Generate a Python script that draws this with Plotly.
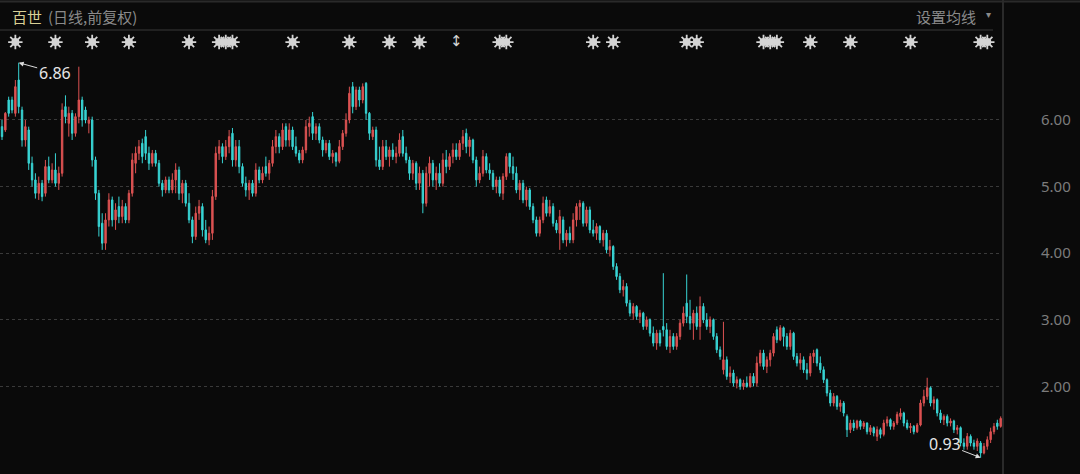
import plotly.graph_objects as go

# 日线 OHLC（前复权）
open_ = [5.9, 5.85, 6.3, 6.3, 6.1, 6.6, 6.15, 5.7, 5.85, 5.35,
         5.1, 4.9, 5.05, 4.9, 5.3, 5.1, 5.25, 5.05, 5.2, 6.2,
         5.95, 6.1, 5.8, 6.05, 6.3, 6.15, 5.95, 6.0, 5.4, 4.9,
         4.45, 4.15, 4.5, 4.8, 4.5, 4.7, 4.55, 4.7, 4.5, 4.9,
         5.35, 5.5, 5.65, 5.75, 5.5, 5.35, 5.5, 5.35, 5.05, 4.95,
         5.1, 4.95, 5.1, 5.25, 4.9, 5.05, 4.75, 4.5, 4.25, 4.6,
         4.7, 4.35, 4.2, 4.3, 4.85, 5.5, 5.6, 5.45, 5.6, 5.8,
         5.4, 5.6, 5.3, 5.05, 4.95, 5.05, 4.9, 5.25, 5.1, 5.3,
         5.2, 5.35, 5.6, 5.75, 5.6, 5.9, 5.7, 5.85, 5.6, 5.5,
         5.4, 5.55, 5.9, 6.05, 5.8, 5.9, 5.7, 5.55, 5.65, 5.45,
         5.5, 5.38, 5.6, 5.8, 6.0, 6.5, 6.2, 6.45, 6.3, 6.55,
         6.1, 5.75, 5.85, 5.4, 5.3, 5.6, 5.45, 5.55, 5.45, 5.5,
         5.75, 5.5, 5.4, 5.2, 5.35, 5.05, 5.2, 4.75, 5.2, 5.35,
         5.1, 5.2, 5.05, 5.4, 5.3, 5.45, 5.55, 5.45, 5.65, 5.8,
         5.6, 5.7, 5.4, 5.1, 5.2, 5.45, 5.25, 5.2, 5.0, 5.1,
         4.9, 5.15, 5.5, 5.3, 5.2, 4.95, 5.05, 4.8, 4.95, 4.7,
         4.5, 4.3, 4.5, 4.8, 4.6, 4.7, 4.45, 4.3, 4.5, 4.2,
         4.3, 4.2, 4.5, 4.7, 4.75, 4.45, 4.65, 4.35, 4.3, 4.4,
         4.2, 4.3, 4.05, 4.1, 3.8, 3.65, 3.45, 3.5, 3.25, 3.1,
         3.2, 3.05, 3.1, 2.9, 3.0, 2.8, 2.65, 2.8, 2.9, 2.85,
         2.6, 2.75, 2.6, 2.75, 2.95, 3.25, 3.05, 2.95, 3.1, 2.9,
         3.2, 3.0, 2.9, 3.0, 2.75, 2.55, 2.25, 2.4, 2.15, 2.2,
         2.05, 2.1, 2.0, 2.05, 2.0, 2.15, 2.05, 2.35, 2.5, 2.3,
         2.4, 2.5, 2.85, 2.7, 2.88, 2.75, 2.6, 2.8, 2.45, 2.35,
         2.4, 2.25, 2.2, 2.45, 2.55, 2.35, 2.25, 2.1, 1.9, 1.75,
         1.85, 1.7, 1.75, 1.55, 1.35, 1.45, 1.38, 1.48, 1.4, 1.45,
         1.32, 1.38, 1.25, 1.35, 1.28, 1.45, 1.5, 1.4, 1.45, 1.55,
         1.6, 1.45, 1.38, 1.4, 1.32, 1.42, 1.75, 1.85, 1.98, 1.75,
         1.8, 1.6, 1.5, 1.55, 1.45, 1.48, 1.35, 1.38, 1.15, 1.1,
         1.25, 1.15, 1.1, 1.15, 1.0, 1.1, 1.2, 1.32, 1.45, 1.4]
high = [6.0, 6.12, 6.35, 6.35, 6.6, 6.86, 6.2, 6.0, 5.9, 5.45,
        5.2, 5.15, 5.1, 5.4, 5.45, 5.35, 5.5, 5.3, 6.25, 6.37,
        6.2, 6.15, 6.1, 6.8, 6.35, 6.2, 6.05, 6.05, 5.45, 4.95,
        4.6, 4.6, 4.9, 4.85, 4.75, 4.85, 4.8, 4.75, 4.95, 5.5,
        5.6, 5.7, 5.72, 5.85, 5.6, 5.55, 5.55, 5.4, 5.1, 5.15,
        5.15, 5.2, 5.35, 5.3, 5.1, 5.1, 4.9, 4.55, 4.7, 4.8,
        4.75, 4.5, 4.4, 4.95, 5.6, 5.7, 5.65, 5.7, 5.85, 5.88,
        5.7, 5.7, 5.35, 5.15, 5.1, 5.1, 5.35, 5.3, 5.3, 5.45,
        5.4, 5.7, 5.85, 5.8, 5.95, 5.95, 5.95, 5.9, 5.75, 5.55,
        5.6, 6.0, 6.05, 6.12, 5.95, 5.95, 5.75, 5.7, 5.7, 5.55,
        5.52, 5.7, 5.85, 6.1, 6.5, 6.57, 6.5, 6.5, 6.55, 6.57,
        6.12, 5.9, 5.9, 5.6, 5.7, 5.7, 5.6, 5.65, 5.6, 5.8,
        5.85, 5.6, 5.45, 5.4, 5.38, 5.3, 5.25, 5.3, 5.45, 5.4,
        5.3, 5.35, 5.5, 5.55, 5.5, 5.65, 5.65, 5.7, 5.85, 5.87,
        5.75, 5.72, 5.45, 5.3, 5.55, 5.5, 5.35, 5.25, 5.15, 5.15,
        5.2, 5.5, 5.5, 5.45, 5.3, 5.1, 5.1, 5.0, 4.98, 4.75,
        4.55, 4.55, 4.85, 4.85, 4.8, 4.75, 4.5, 4.65, 4.55, 4.35,
        4.4, 4.6, 4.75, 4.8, 4.78, 4.7, 4.7, 4.5, 4.45, 4.42,
        4.35, 4.35, 4.2, 4.12, 3.85, 3.7, 3.6, 3.55, 3.3, 3.25,
        3.22, 3.15, 3.12, 3.05, 3.02, 2.9, 2.85, 2.85, 3.7, 2.95,
        2.85, 2.8, 2.8, 3.0, 3.2, 3.68, 3.3, 3.15, 3.2, 3.35,
        3.25, 3.1, 3.05, 3.02, 2.8, 2.6, 2.97, 2.45, 2.3, 2.25,
        2.15, 2.12, 2.1, 2.15, 2.2, 2.2, 2.45, 2.55, 2.55, 2.45,
        2.55, 2.8, 2.9, 2.92, 2.9, 2.8, 2.85, 2.82, 2.5, 2.5,
        2.45, 2.35, 2.5, 2.55, 2.57, 2.45, 2.3, 2.12, 1.95, 1.9,
        1.87, 1.8, 1.78, 1.58, 1.5, 1.5, 1.5, 1.5, 1.48, 1.46,
        1.42, 1.4, 1.4, 1.38, 1.5, 1.55, 1.52, 1.48, 1.62, 1.67,
        1.62, 1.5, 1.45, 1.42, 1.45, 1.8, 1.95, 2.13, 2.0, 1.85,
        1.82, 1.65, 1.58, 1.58, 1.52, 1.5, 1.42, 1.4, 1.22, 1.3,
        1.28, 1.2, 1.22, 1.18, 1.15, 1.25, 1.38, 1.45, 1.5, 1.55]
low = [5.7, 5.82, 6.05, 6.1, 6.05, 6.1, 5.6, 5.6, 5.25, 5.0,
       4.82, 4.8, 4.78, 4.85, 5.05, 5.05, 5.0, 4.95, 5.15, 5.95,
       5.75, 5.7, 5.75, 5.95, 5.9, 5.95, 5.8, 5.3, 4.8, 4.25,
       4.05, 4.05, 4.4, 4.4, 4.35, 4.45, 4.45, 4.45, 4.45, 4.85,
       5.2, 5.4, 5.35, 5.4, 5.25, 5.3, 5.3, 5.0, 4.85, 4.9,
       4.9, 4.9, 4.9, 4.8, 4.75, 4.7, 4.45, 4.15, 4.2, 4.5,
       4.25, 4.15, 4.12, 4.2, 4.8, 5.4, 5.35, 5.4, 5.5, 5.3,
       5.3, 5.2, 5.0, 4.85, 4.8, 4.85, 4.85, 5.05, 5.05, 5.15,
       5.1, 5.3, 5.5, 5.5, 5.55, 5.6, 5.6, 5.55, 5.45, 5.35,
       5.35, 5.5, 5.75, 5.7, 5.7, 5.65, 5.45, 5.5, 5.4, 5.35,
       5.3, 5.35, 5.55, 5.75, 5.95, 6.1, 6.15, 6.2, 6.25, 6.0,
       5.7, 5.7, 5.3, 5.25, 5.25, 5.4, 5.3, 5.4, 5.35, 5.45,
       5.45, 5.35, 5.1, 5.1, 4.95, 4.95, 4.6, 4.7, 5.0, 5.0,
       4.95, 5.0, 5.0, 5.2, 5.25, 5.35, 5.4, 5.4, 5.55, 5.5,
       5.45, 5.35, 5.0, 5.05, 5.15, 5.2, 5.1, 4.95, 4.9, 4.85,
       4.8, 5.1, 5.2, 5.1, 4.9, 4.8, 4.75, 4.7, 4.65, 4.45,
       4.25, 4.25, 4.45, 4.55, 4.55, 4.4, 4.3, 4.05, 4.15, 4.1,
       4.15, 4.15, 4.4, 4.5, 4.4, 4.4, 4.3, 4.25, 4.2, 4.15,
       4.1, 4.0, 3.95, 3.75, 3.6, 3.4, 3.35, 3.2, 3.05, 3.0,
       3.0, 2.95, 2.85, 2.85, 2.75, 2.6, 2.55, 2.6, 2.75, 2.55,
       2.5, 2.55, 2.55, 2.7, 2.9, 2.95, 2.85, 2.7, 2.85, 2.7,
       2.95, 2.85, 2.8, 2.7, 2.5, 2.4, 2.18, 2.1, 2.05, 2.0,
       1.97, 1.95, 1.95, 1.98, 1.98, 2.0, 2.0, 2.3, 2.25, 2.2,
       2.3, 2.45, 2.65, 2.68, 2.6, 2.55, 2.55, 2.4, 2.3, 2.25,
       2.2, 2.1, 2.15, 2.35, 2.3, 2.2, 2.05, 1.85, 1.7, 1.7,
       1.65, 1.62, 1.55, 1.24, 1.3, 1.33, 1.35, 1.35, 1.36, 1.28,
       1.27, 1.25, 1.18, 1.22, 1.25, 1.4, 1.35, 1.35, 1.42, 1.5,
       1.4, 1.35, 1.3, 1.28, 1.3, 1.4, 1.7, 1.8, 1.7, 1.65,
       1.55, 1.45, 1.42, 1.4, 1.4, 1.3, 1.28, 1.1, 1.05, 1.05,
       1.1, 1.05, 1.03, 0.93, 0.98, 1.05, 1.15, 1.28, 1.35, 1.38]
close = [5.75, 6.1, 6.1, 6.15, 6.5, 6.2, 5.7, 5.9, 5.35, 5.1,
         4.9, 5.05, 4.85, 5.3, 5.1, 5.25, 5.05, 5.2, 6.15, 6.05,
         6.1, 5.8, 6.05, 6.3, 6.0, 6.0, 6.0, 5.4, 4.9, 4.4,
         4.15, 4.5, 4.8, 4.5, 4.65, 4.55, 4.7, 4.5, 4.9, 5.4,
         5.5, 5.6, 5.45, 5.5, 5.35, 5.5, 5.35, 5.05, 4.95, 5.1,
         4.95, 5.1, 5.25, 4.9, 5.05, 4.75, 4.5, 4.25, 4.6, 4.7,
         4.35, 4.2, 4.3, 4.85, 5.5, 5.6, 5.45, 5.6, 5.75, 5.4,
         5.6, 5.3, 5.05, 4.95, 5.05, 4.9, 5.25, 5.1, 5.2, 5.2,
         5.35, 5.6, 5.75, 5.6, 5.85, 5.7, 5.85, 5.6, 5.5, 5.4,
         5.55, 5.9, 5.95, 5.8, 5.9, 5.7, 5.55, 5.65, 5.45, 5.5,
         5.38, 5.6, 5.8, 6.0, 6.4, 6.2, 6.45, 6.3, 6.5, 6.1,
         5.8, 5.85, 5.4, 5.3, 5.6, 5.45, 5.55, 5.45, 5.5, 5.7,
         5.5, 5.4, 5.2, 5.35, 5.05, 5.2, 4.75, 5.2, 5.35, 5.1,
         5.2, 5.05, 5.4, 5.3, 5.45, 5.55, 5.45, 5.65, 5.75, 5.6,
         5.7, 5.4, 5.1, 5.2, 5.45, 5.25, 5.2, 5.0, 5.1, 4.9,
         5.15, 5.45, 5.3, 5.2, 4.95, 5.05, 4.8, 4.95, 4.7, 4.5,
         4.3, 4.5, 4.75, 4.6, 4.7, 4.45, 4.35, 4.55, 4.2, 4.3,
         4.2, 4.5, 4.7, 4.75, 4.45, 4.65, 4.35, 4.3, 4.4, 4.2,
         4.3, 4.05, 4.1, 3.8, 3.65, 3.45, 3.5, 3.25, 3.1, 3.2,
         3.05, 3.1, 2.9, 3.0, 2.8, 2.65, 2.8, 2.65, 2.85, 2.6,
         2.75, 2.6, 2.75, 2.95, 3.1, 3.05, 2.95, 3.1, 2.9, 3.2,
         3.0, 2.9, 3.0, 2.75, 2.55, 2.45, 2.4, 2.15, 2.2, 2.05,
         2.1, 2.0, 2.05, 2.0, 2.15, 2.05, 2.35, 2.5, 2.3, 2.4,
         2.5, 2.75, 2.7, 2.88, 2.75, 2.6, 2.8, 2.45, 2.35, 2.4,
         2.25, 2.2, 2.45, 2.5, 2.35, 2.25, 2.1, 1.9, 1.75, 1.85,
         1.7, 1.75, 1.6, 1.35, 1.45, 1.38, 1.48, 1.4, 1.45, 1.32,
         1.38, 1.3, 1.35, 1.28, 1.45, 1.5, 1.4, 1.45, 1.58, 1.6,
         1.45, 1.38, 1.4, 1.32, 1.42, 1.75, 1.85, 1.98, 1.75, 1.8,
         1.6, 1.5, 1.55, 1.45, 1.48, 1.35, 1.38, 1.15, 1.1, 1.25,
         1.15, 1.1, 1.18, 1.0, 1.1, 1.2, 1.32, 1.4, 1.4, 1.52]
days = list(range(len(close)))

# 顶部事件标记所在的K线
event_days = [4, 16, 27, 38, 56, 65, 67, 69, 87, 104, 116, 125,
              149, 151, 177, 183, 205, 208, 228, 230, 232, 242, 254, 272, 293, 295]
split_days = [136]

price_ticks = [2, 3, 4, 5, 6]

W, H = 1080, 474
plot_right = 1003 / W
plot_top = 1 - 30 / H
y_lo, y_hi = 0.685, 7.351
mark_y = 7.17
mark_col = '#d4d4d4'

fig = go.Figure()
fig.add_trace(go.Candlestick(
    x=days, open=open_, high=high, low=low, close=close,
    increasing=dict(line=dict(color='#dc5252', width=1), fillcolor='#dc5252'),
    decreasing=dict(line=dict(color='#38d4d4', width=1), fillcolor='#38d4d4'),
    whiskerwidth=0, showlegend=False, hoverinfo='skip'))

# 事件标记 ✹
fig.add_trace(go.Scatter(x=event_days, y=[mark_y] * len(event_days), mode='markers',
                         marker=dict(symbol='circle', size=8, color=mark_col),
                         showlegend=False, hoverinfo='skip'))
fig.add_trace(go.Scatter(x=event_days, y=[mark_y] * len(event_days), mode='markers',
                         marker=dict(symbol='asterisk-open', size=12, color=mark_col,
                                     line=dict(color=mark_col, width=1.8)),
                         showlegend=False, hoverinfo='skip'))
fig.add_trace(go.Scatter(x=split_days, y=[mark_y] * len(split_days), mode='text',
                         text=['↕'] * len(split_days),
                         textfont=dict(color=mark_col, size=15, family='DejaVu Sans'),
                         showlegend=False, hoverinfo='skip'))

# 最高、最低价标注
i_hi = max(days, key=lambda i: high[i])
i_lo = min(days, key=lambda i: low[i])
fig.add_annotation(x=i_hi, y=high[i_hi], text='%.2f' % high[i_hi], showarrow=True,
                   ax=36, ay=10, arrowhead=2, arrowsize=1, arrowwidth=1, arrowcolor='#dcdcdc',
                   font=dict(color='#e6e6e6', size=16, family='Noto Sans'))
fig.add_annotation(x=i_lo, y=low[i_lo], text='%.2f' % low[i_lo], showarrow=True,
                   ax=-36, ay=-14, arrowhead=2, arrowsize=1, arrowwidth=1, arrowcolor='#dcdcdc',
                   font=dict(color='#e6e6e6', size=16, family='Noto Sans'))

# 标题栏
fig.add_annotation(x=10 / W, y=1 - 16 / H, xref='paper', yref='paper', xanchor='left', yanchor='middle',
                   text='百世', showarrow=False,
                   font=dict(color='#d8cf95', size=15, family='Noto Sans CJK SC'))
fig.add_annotation(x=46 / W, y=1 - 16 / H, xref='paper', yref='paper', xanchor='left', yanchor='middle',
                   text='(日线,前复权)', showarrow=False,
                   font=dict(color='#8a8a8a', size=15, family='Noto Sans CJK SC'))
fig.add_annotation(x=978 / W, y=1 - 16 / H, xref='paper', yref='paper', xanchor='right', yanchor='middle',
                   text='设置均线', showarrow=False,
                   font=dict(color='#8a8a8a', size=15, family='Noto Sans CJK SC'))
fig.add_annotation(x=988 / W, y=1 - 15 / H, xref='paper', yref='paper', xanchor='center', yanchor='middle',
                   text='▾', showarrow=False,
                   font=dict(color='#8a8a8a', size=10, family='DejaVu Sans'))

line_col = '#2a2a2a'
fig.add_shape(type='line', xref='paper', yref='paper', x0=0, x1=1, y0=1 - 1.5 / H, y1=1 - 1.5 / H,
              line=dict(color=line_col, width=2))
fig.add_shape(type='line', xref='paper', yref='paper', x0=0, x1=993 / W, y0=plot_top, y1=plot_top,
              line=dict(color=line_col, width=1.5))
fig.add_shape(type='line', xref='paper', yref='paper', x0=plot_right, x1=plot_right, y0=0, y1=1,
              line=dict(color=line_col, width=2))

fig.update_layout(
    width=W, height=H,
    margin=dict(l=0, r=0, t=0, b=0),
    paper_bgcolor='#0a0a0a', plot_bgcolor='#0a0a0a',
    showlegend=False, boxgap=0.4,
    xaxis=dict(domain=[0, plot_right], range=[-0.6, 299.7], showgrid=False, zeroline=False,
               showticklabels=False, rangeslider=dict(visible=False), fixedrange=True),
    yaxis=dict(domain=[0, plot_top], range=[y_lo, y_hi], side='right',
               tickvals=price_ticks, ticktext=['%.2f' % v for v in price_ticks],
               tickfont=dict(color='#7c7c7c', size=15, family='Noto Sans'),
               ticks='outside', ticklen=34, tickcolor='rgba(0,0,0,0)',
               showgrid=True, gridcolor='#3a3a3a', griddash='dot', gridwidth=1,
               zeroline=False, showline=False),
)

fig.write_html("out.html", config={'displayModeBar': False},
               post_script="document.body.style.margin='0';document.body.style.background='#0a0a0a';")
